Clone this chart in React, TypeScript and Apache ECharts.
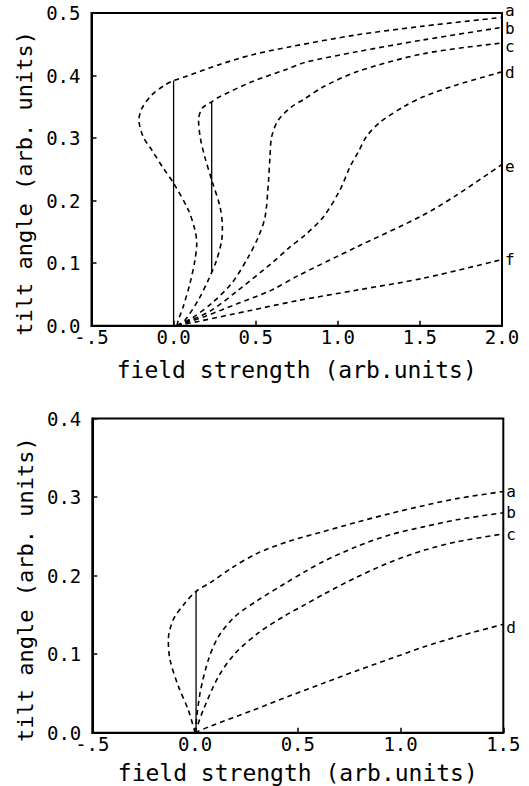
import React, { useEffect, useRef } from "react";
import * as echarts from "echarts";

// ---------- tick labels ----------
const topXTickLabels = ["-.5", "0.0", "0.5", "1.0", "1.5", "2.0"];
const topYTickLabels = ["0.0", "0.1", "0.2", "0.3", "0.4", "0.5"];
const bottomXTickLabels = ["-.5", "0.0", "0.5", "1.0", "1.5"];
const bottomYTickLabels = ["0.0", "0.1", "0.2", "0.3", "0.4"];

const xName = "field strength (arb.units)";
const yName = "tilt angle (arb. units)";

// ---------- top panel curves ----------
const topNames = ["a", "b", "c", "d", "e", "f"];
const topA = [
  [0.02, 0], [0.029, 0.009], [0.059, 0.031], [0.1, 0.068], [0.13, 0.105], [0.141, 0.132],
  [0.13, 0.153], [0.09, 0.185], [0, 0.228], [-0.063, 0.252], [-0.133, 0.281], [-0.185, 0.302],
  [-0.211, 0.329], [-0.194, 0.347], [-0.133, 0.369], [-0.052, 0.385], [0, 0.392], [0.069, 0.398],
  [0.272, 0.417], [0.476, 0.433], [0.709, 0.446], [1.115, 0.465], [1.521, 0.479], [2.0, 0.493],
];
const topB = [
  [0.02, 0], [0.069, 0.009], [0.15, 0.041], [0.211, 0.073], [0.262, 0.105], [0.293, 0.137],
  [0.297, 0.158], [0.283, 0.19], [0.232, 0.233], [0.19, 0.27], [0.163, 0.3], [0.152, 0.329],
  [0.175, 0.348], [0.232, 0.358], [0.272, 0.365], [0.476, 0.39], [0.678, 0.409], [0.8, 0.421],
  [1.115, 0.438], [1.521, 0.457], [2.0, 0.477],
];
const topC = [
  [0.02, 0], [0.11, 0.012], [0.232, 0.036], [0.354, 0.068], [0.455, 0.11], [0.516, 0.142],
  [0.557, 0.174], [0.577, 0.228], [0.587, 0.27], [0.597, 0.302], [0.638, 0.329], [0.719, 0.35],
  [0.8, 0.363], [0.912, 0.382], [1.115, 0.406], [1.521, 0.435], [2.0, 0.452],
];
const topD = [
  [0.02, 0], [0.09, 0.007], [0.232, 0.025], [0.394, 0.057], [0.597, 0.1], [0.709, 0.126],
  [0.8, 0.145], [0.912, 0.174], [1.013, 0.217], [1.074, 0.254], [1.125, 0.278], [1.176, 0.303],
  [1.26, 0.326], [1.4, 0.35], [1.521, 0.366], [1.724, 0.385], [2.0, 0.406],
];
const topE = [
  [0.02, 0], [0.191, 0.015], [0.394, 0.036], [0.597, 0.057], [0.75, 0.079], [1.115, 0.126],
  [1.521, 0.177], [1.724, 0.209], [2.0, 0.258],
];
const topF = [
  [0.02, 0], [0.15, 0.007], [0.476, 0.025], [0.75, 0.04], [1.115, 0.057], [1.521, 0.076],
  [2.0, 0.106],
];
const topCurves = [topA, topB, topC, topD, topE, topF];
const topLabelShift = [-7, 1, 3, 1, 2, 0];
const topSwitch1 = [[0, 0], [0, 0.392]];
const topSwitch2 = [[0.232, 0.086], [0.232, 0.358]];

// ---------- bottom panel curves ----------
const bottomNames = ["a", "b", "c", "d"];
const bottomA = [
  [0, 0], [-0.033, 0.029], [-0.081, 0.059], [-0.122, 0.093], [-0.13, 0.118], [-0.106, 0.144],
  [-0.049, 0.165], [0.005, 0.18], [0.08, 0.192], [0.18, 0.21], [0.3, 0.228], [0.46, 0.244],
  [0.624, 0.256], [0.787, 0.268], [0.949, 0.279], [1.111, 0.289], [1.273, 0.298], [1.5, 0.307],
];
const bottomB = [
  [0, 0], [0.024, 0.05], [0.065, 0.093], [0.113, 0.122], [0.195, 0.148], [0.308, 0.169],
  [0.438, 0.19], [0.535, 0.205], [0.624, 0.218], [0.787, 0.237], [0.949, 0.252], [1.111, 0.262],
  [1.273, 0.271], [1.5, 0.28],
];
const bottomC = [
  [0, 0], [0.04, 0.029], [0.113, 0.071], [0.195, 0.101], [0.308, 0.127], [0.438, 0.149],
  [0.535, 0.163], [0.624, 0.176], [0.787, 0.198], [0.949, 0.217], [1.111, 0.232], [1.273, 0.243],
  [1.5, 0.253],
];
const bottomD = [
  [0, 0], [0.081, 0.009], [0.276, 0.028], [0.462, 0.047], [0.624, 0.063], [0.787, 0.079],
  [0.949, 0.094], [1.111, 0.109], [1.273, 0.122], [1.5, 0.138],
];
const bottomCurves = [bottomA, bottomB, bottomC, bottomD];
const bottomLabelShift = [0, 0, 1, 3];
const bottomSwitch = [[0.005, 0], [0.005, 0.18]];

const FONT = "DejaVu Sans Mono";
const INK = "#000";

export default function App() {
  const ref = useRef<HTMLDivElement>(null);

  useEffect(() => {
    if (!ref.current) return;
    const chart = echarts.init(ref.current, undefined, { renderer: "svg" });

    const tickFmt = (labels: string[], min: number, step: number) => (v: number) =>
      labels[Math.round((v - min) / step)] ?? "";

    const mkX = (grid: number, max: number, labels: string[], gap: number) => ({
      type: "value",
      gridIndex: grid,
      min: -0.5,
      max,
      interval: 0.5,
      name: xName,
      nameLocation: "middle",
      nameGap: gap,
      nameTextStyle: { fontFamily: FONT, fontSize: 23, color: INK },
      axisLine: { show: true, onZero: false, lineStyle: { color: INK, width: 2 } },
      axisTick: { show: true, inside: true, length: 5, lineStyle: { color: INK, width: 1.5 } },
      axisLabel: {
        margin: 2,
        fontFamily: FONT,
        fontSize: 19,
        color: INK,
        showMinLabel: true,
        showMaxLabel: true,
        hideOverlap: false,
        formatter: tickFmt(labels, -0.5, 0.5),
      },
      splitLine: { show: false },
    });

    const mkY = (grid: number, max: number, labels: string[]) => ({
      type: "value",
      gridIndex: grid,
      min: 0,
      max,
      interval: 0.1,
      name: yName,
      nameLocation: "middle",
      nameGap: 50,
      nameTextStyle: { fontFamily: FONT, fontSize: 22, color: INK, padding: [0, 28, 0, 0] },
      axisLine: { show: true, onZero: false, lineStyle: { color: INK, width: 2 } },
      axisTick: { show: true, inside: true, length: 5, lineStyle: { color: INK, width: 1.5 } },
      axisLabel: {
        margin: 11,
        fontFamily: FONT,
        fontSize: 19,
        color: INK,
        showMinLabel: true,
        showMaxLabel: true,
        hideOverlap: false,
        formatter: tickFmt(labels, 0, 0.1),
      },
      splitLine: { show: false },
    });

    const dashed = (data: number[][], name: string, grid: number, shift: number) => ({
      type: "line",
      name: name,
      xAxisIndex: grid,
      yAxisIndex: grid,
      data,
      symbol: "none",
      showSymbol: false,
      smooth: 0.3,
      lineStyle: { color: INK, width: 1.6, type: [5, 4] },
      endLabel: {
        show: true,
        formatter: name,
        color: INK,
        fontFamily: FONT,
        fontSize: 16,
        lineHeight: 12,
        distance: 3,
        offset: [0, shift],
      },
      silent: true,
    });

    const solid = (data: number[][], grid: number) => ({
      type: "line",
      xAxisIndex: grid,
      yAxisIndex: grid,
      data,
      symbol: "none",
      showSymbol: false,
      lineStyle: { color: INK, width: 1.3, type: "solid" },
      silent: true,
    });

    const series: any[] = [];
    topCurves.forEach((c, i) => series.push(dashed(c, topNames[i], 0, topLabelShift[i])));
    series.push(solid(topSwitch1, 0), solid(topSwitch2, 0));
    bottomCurves.forEach((c, i) => series.push(dashed(c, bottomNames[i], 1, bottomLabelShift[i])));
    series.push(solid(bottomSwitch, 1));

    chart.setOption({
      animation: false,
      backgroundColor: "#fff",
      grid: [
        { left: 91.5, top: 13, width: 410.5, height: 312.8, show: true, borderColor: INK, borderWidth: 2, backgroundColor: "transparent" },
        { left: 92.3, top: 418.5, width: 411, height: 314.2, show: true, borderColor: INK, borderWidth: 2, backgroundColor: "transparent" },
      ],
      xAxis: [mkX(0, 2.0, topXTickLabels, 33), mkX(1, 1.5, bottomXTickLabels, 29)],
      yAxis: [mkY(0, 0.5, topYTickLabels), mkY(1, 0.4, bottomYTickLabels)],
      series,
    });

    return () => chart.dispose();
  }, []);

  return (
    <div
      ref={ref}
      style={{ position: "absolute", left: 0, top: 0, width: 529, height: 786, background: "#fff" }}
    />
  );
}
